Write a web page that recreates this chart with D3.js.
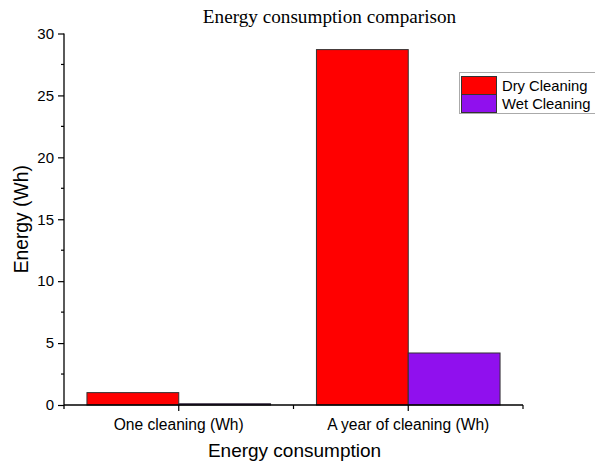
<!DOCTYPE html>
<html>
<head>
<meta charset="utf-8">
<script src="https://cdn.jsdelivr.net/npm/d3@7"></script>
<style>
  html, body { margin: 0; padding: 0; background: #fff; overflow: hidden; }
  svg { display: block; }
</style>
</head>
<body>
<svg id="chart" width="595" height="466"></svg>
<script>
// Chart data
const categories = ["One cleaning (Wh)", "A year of cleaning (Wh)"];
const seriesNames = ["Dry Cleaning", "Wet Cleaning"];
const dryValues = [1.0, 28.7];
const wetValues = [0.1, 4.2];
const yTicks = [0, 5, 10, 15, 20, 25, 30];
const seriesColors = ["#ff0000", "#9010ee"];

const svg = d3.select("#chart");
const margin = { left: 64, right: 72, top: 33.5, bottom: 61 };
const W = 595, H = 466;
const x0 = margin.left, x1 = W - margin.right;
const y0 = H - margin.bottom, y1 = margin.top;
const sans = "Liberation Sans, Arial, sans-serif";

const x = d3.scaleBand().domain(categories).range([x0, x1]).paddingInner(0).paddingOuter(0);
const xs = d3.scaleBand().domain(seriesNames).range([0, x.bandwidth()]).paddingInner(0).paddingOuter(0.25);
const y = d3.scaleLinear().domain([0, 30]).range([y0, y1]);

const table = categories.map((c, i) => ({ cat: c, vals: [dryValues[i], wetValues[i]] }));

// Bars
const groups = svg.append("g").selectAll("g").data(table).join("g")
  .attr("transform", d => `translate(${x(d.cat)},0)`);
groups.selectAll("rect").data(d => d.vals.map((v, j) => ({ v, s: seriesNames[j], j })))
  .join("rect")
  .attr("x", d => xs(d.s))
  .attr("width", xs.bandwidth())
  .attr("y", d => y(d.v))
  .attr("height", d => y(0) - y(d.v))
  .attr("fill", d => seriesColors[d.j])
  .attr("stroke", "#333")
  .attr("stroke-width", 1);

// Y axis
const yAxis = d3.axisLeft(y).tickValues(yTicks).tickSize(6).tickPadding(4);
const gy = svg.append("g").attr("transform", `translate(${x0},0)`).call(yAxis);
gy.select(".domain").attr("stroke", "#000").attr("stroke-width", 1.3)
  .attr("d", `M0,${y0 + 4}V${y1}`);
gy.selectAll(".tick line").attr("stroke", "#000").attr("stroke-width", 1.2);
gy.selectAll(".tick text").attr("font-family", sans)
  .attr("font-size", 15).attr("fill", "#000");
// minor ticks
const minorY = d3.range(2.5, 30, 5);
gy.selectAll(".minor").data(minorY).join("line").attr("class", "minor")
  .attr("x1", -3).attr("x2", 0).attr("y1", d => y(d)).attr("y2", d => y(d))
  .attr("stroke", "#000").attr("stroke-width", 1.2);

// X axis
const gx = svg.append("g").attr("transform", `translate(0,${y0})`);
gx.append("line").attr("x1", x0).attr("x2", x1).attr("y1", 0).attr("y2", 0)
  .attr("stroke", "#000").attr("stroke-width", 1.3);
gx.selectAll(".major").data(categories).join("line").attr("class", "major")
  .attr("x1", d => x(d) + x.bandwidth() / 2).attr("x2", d => x(d) + x.bandwidth() / 2)
  .attr("y1", 0).attr("y2", 6).attr("stroke", "#000").attr("stroke-width", 1.2);
const bounds = [x(categories[1]), x1];
gx.selectAll(".minorx").data(bounds).join("line").attr("class", "minorx")
  .attr("x1", d => d).attr("x2", d => d).attr("y1", 0).attr("y2", 4)
  .attr("stroke", "#000").attr("stroke-width", 1.2);
gx.selectAll(".lab").data(categories).join("text").attr("class", "lab")
  .attr("x", d => x(d) + x.bandwidth() / 2).attr("y", 25)
  .attr("text-anchor", "middle")
  .attr("font-family", sans).attr("font-size", 15.6)
  .attr("fill", "#000").text(d => d);

// Titles
svg.append("text").attr("x", 329.5).attr("y", 23).attr("text-anchor", "middle")
  .attr("font-family", "Liberation Serif, Times New Roman, serif").attr("font-size", 19.2)
  .attr("fill", "#000").text("Energy consumption comparison");
svg.append("text").attr("x", 294.5).attr("y", 457).attr("text-anchor", "middle")
  .attr("font-family", sans).attr("font-size", 19)
  .attr("fill", "#000").text("Energy consumption");
svg.append("text").attr("transform", `translate(28,${(y0 + y1) / 2}) rotate(-90)`)
  .attr("text-anchor", "middle")
  .attr("font-family", sans).attr("font-size", 19.3)
  .attr("fill", "#000").text("Energy (Wh)");

// Legend
const lg = svg.append("g").attr("transform", "translate(459.5,72.5)");
lg.append("rect").attr("x", 0).attr("y", 0).attr("width", 150).attr("height", 41)
  .attr("fill", "#fff").attr("stroke", "#aaa").attr("stroke-width", 1);
const items = lg.selectAll(".item").data(seriesNames).join("g").attr("class", "item")
  .attr("transform", (d, i) => `translate(2,${4 + i * 18})`);
items.append("rect").attr("width", 35).attr("height", 18)
  .attr("fill", (d, i) => seriesColors[i]).attr("stroke", "#333").attr("stroke-width", 1);
items.append("text").attr("x", 40.5).attr("y", 14.5)
  .attr("font-family", sans).attr("font-size", 14.8)
  .attr("fill", "#000").text(d => d);
</script>
</body>
</html>
